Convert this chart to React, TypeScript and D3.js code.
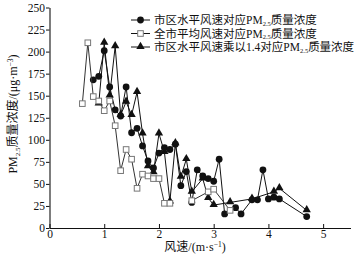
import React, { useEffect, useRef } from "react";
import * as d3 from "d3";

const squareX = [0.6, 0.7, 0.8, 0.9, 1.0, 1.1, 1.2, 1.3, 1.4, 1.5, 1.6, 1.7, 1.8, 1.9, 2.0, 2.1, 2.2];
const squareY = [141, 210, 149, 144, 133, 144, 116, 65, 89, 78, 45, 61, 59, 56, 56, 28, 28];
const squareX2 = [2.6, 2.9, 3.0, 3.3];
const squareY2 = [31, 41, 44, 20];

const dotX = [0.8, 0.9, 1.0, 1.1, 1.2, 1.3, 1.4, 1.5, 1.6, 1.7, 1.8, 1.9, 2.0, 2.1, 2.2, 2.3, 2.4, 2.5, 2.6, 2.7, 2.8, 2.9, 3.0, 3.1, 3.2, 3.4, 3.5, 3.7, 3.8, 3.9, 4.0, 4.1, 4.2, 4.7];
const dotY = [168, 172, 201, 160, 134, 127, 160, 108, 113, 93, 76, 68, 85, 91, 89, 95, 48, 64, 29, 66, 59, 56, 53, 78, 16, 23, 16, 32, 32, 66, 33, 35, 33, 13];

const triX = [0.9, 1.0, 1.1, 1.2, 1.3, 1.4, 1.5, 1.6, 1.7, 1.8, 1.9, 2.0, 2.1, 2.2, 2.3, 2.4, 2.5, 2.6, 2.8, 2.9, 3.0, 3.3, 3.7, 4.1, 4.2, 4.7];
const triY = [141, 210, 150, 206, 128, 143, 128, 154, 107, 70, 63, 107, 86, 30, 96, 58, 78, 41, 56, 34, 26, 29, 33, 41, 45, 20];

const xTicks = [0, 1, 2, 3, 4, 5];
const yTicks = [0, 25, 50, 75, 100, 125, 150, 175, 200, 225, 250];

const legendTexts = [
  { pre: "市区水平风速对应PM", sub: "2.5", post: "质量浓度" },
  { pre: "全市平均风速对应PM", sub: "2.5", post: "质量浓度" },
  { pre: "市区水平风速乘以1.4对应PM", sub: "2.5", post: "质量浓度" },
];

const W = 364;
const H = 257;
const FONT = "'Liberation Serif', 'Times New Roman', 'Noto Sans CJK SC', serif";

export default function App() {
  const ref = useRef<SVGSVGElement>(null);

  useEffect(() => {
    const svg = d3.select(ref.current);
    svg.selectAll("*").remove();

    const x = d3.scaleLinear().domain([0, 5.5]).range([49.5, 350.5]);
    const y = d3.scaleLinear().domain([0, 250]).range([228, 7.5]);

    const gx = svg
      .append("g")
      .attr("transform", `translate(0,${y(0)})`)
      .call(
        d3
          .axisBottom(x)
          .tickValues(xTicks)
          .tickFormat(d3.format("d"))
          .tickSizeInner(-4)
          .tickSizeOuter(0)
          .tickPadding(2)
      );
    const gy = svg
      .append("g")
      .attr("transform", `translate(${x(0)},0)`)
      .call(
        d3
          .axisLeft(y)
          .tickValues(yTicks)
          .tickFormat(d3.format("d"))
          .tickSize(3.5)
          .tickSizeOuter(0)
          .tickPadding(1)
      );
    [gx, gy].forEach((g) => {
      g.selectAll("text").attr("font-family", FONT).attr("font-size", 11.5).attr("fill", "#111");
      g.selectAll("line").attr("stroke", "#111");
      g.select(".domain").attr("stroke", "#111").attr("stroke-width", 1.1);
    });

    const pts = (xs: number[], ys: number[]) => xs.map((v, i) => [v, ys[i]] as [number, number]);
    const line = d3
      .line<[number, number]>()
      .x((d) => x(d[0]))
      .y((d) => y(d[1]));

    const sq = pts(squareX, squareY);
    const sq2 = pts(squareX2, squareY2);
    const dots = pts(dotX, dotY);
    const tris = pts(triX, triY);

    const triPath = d3.symbol().type(d3.symbolTriangle).size(30)();

    svg.append("path").attr("d", line(tris)).attr("fill", "none").attr("stroke", "#111").attr("stroke-width", 1);
    svg
      .append("g")
      .selectAll("path")
      .data(tris)
      .join("path")
      .attr("d", triPath)
      .attr("transform", (d) => `translate(${x(d[0])},${y(d[1]) - 0.5})`)
      .attr("fill", "#111");

    svg.append("path").attr("d", line(dots)).attr("fill", "none").attr("stroke", "#111").attr("stroke-width", 1);
    svg
      .append("g")
      .selectAll("circle")
      .data(dots)
      .join("circle")
      .attr("cx", (d) => x(d[0]))
      .attr("cy", (d) => y(d[1]))
      .attr("r", 3.4)
      .attr("fill", "#111");

    [sq, sq2].forEach((s) => {
      svg.append("path").attr("d", line(s)).attr("fill", "none").attr("stroke", "#333").attr("stroke-width", 1);
    });
    svg
      .append("g")
      .selectAll("rect")
      .data([...sq, ...sq2])
      .join("rect")
      .attr("x", (d) => x(d[0]) - 2.8)
      .attr("y", (d) => y(d[1]) - 2.8)
      .attr("width", 5.6)
      .attr("height", 5.6)
      .attr("fill", "#fff")
      .attr("stroke", "#777")
      .attr("stroke-width", 1);

    const lg = svg.append("g");
    const rows = [20, 33.5, 47];
    rows.forEach((ry, i) => {
      lg.append("line").attr("x1", 131).attr("x2", 150).attr("y1", ry).attr("y2", ry).attr("stroke", "#111").attr("stroke-width", 1);
      if (i === 0) lg.append("circle").attr("cx", 140.5).attr("cy", ry).attr("r", 3.4).attr("fill", "#111");
      if (i === 1)
        lg.append("rect").attr("x", 137.7).attr("y", ry - 2.8).attr("width", 5.6).attr("height", 5.6).attr("fill", "#fff").attr("stroke", "#777");
      if (i === 2) lg.append("path").attr("d", triPath).attr("transform", `translate(140.5,${ry - 0.5})`).attr("fill", "#111");
      const t = lg
        .append("text")
        .attr("x", 154)
        .attr("y", ry + 4)
        .attr("font-family", FONT)
        .attr("font-size", 11.5)
        .attr("fill", "#111");
      const lt = legendTexts[i];
      t.append("tspan").text(lt.pre);
      t.append("tspan").attr("font-size", 6.5).attr("dy", 1.5).text(lt.sub);
      t.append("tspan").attr("dy", -1.5).text(lt.post);
    });

    const xt = svg
      .append("text")
      .attr("x", 195)
      .attr("y", 251)
      .attr("text-anchor", "middle")
      .attr("font-family", FONT)
      .attr("font-size", 12)
      .attr("fill", "#111");
    xt.append("tspan").text("风速/(m·s");
    xt.append("tspan").attr("font-size", 7.5).attr("dy", -4).text("−1");
    xt.append("tspan").attr("dy", 4).text(")");

    const yt = svg
      .append("text")
      .attr("transform", `translate(17,114) rotate(-90)`)
      .attr("text-anchor", "middle")
      .attr("font-family", FONT)
      .attr("font-size", 12)
      .attr("fill", "#111");
    yt.append("tspan").text("PM");
    yt.append("tspan").attr("font-size", 7).attr("dy", 2.5).text("2.5");
    yt.append("tspan").attr("dy", -2.5).text("质量浓度/(μg·m");
    yt.append("tspan").attr("font-size", 7.5).attr("dy", -4).text("−3");
    yt.append("tspan").attr("dy", 4).text(")");
  }, []);

  return (
    <svg
      ref={ref}
      width={W}
      height={H}
      style={{ position: "absolute", left: 0, top: 0, background: "#fff" }}
    />
  );
}
